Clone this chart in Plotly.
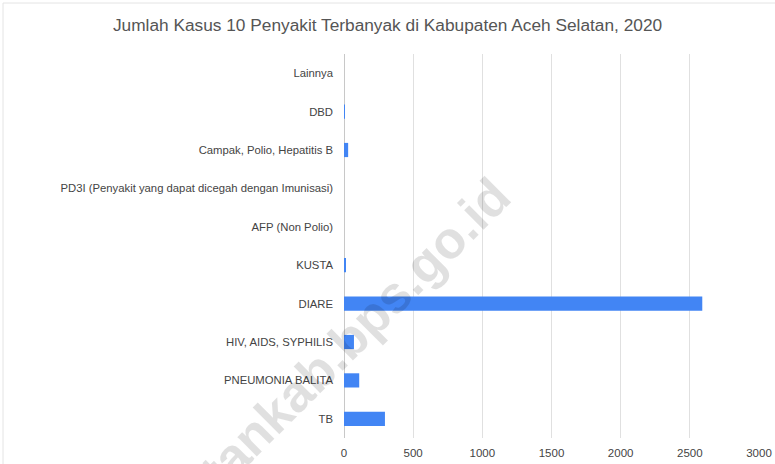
import plotly.graph_objects as go

categories = ["TB", "PNEUMONIA BALITA", "HIV, AIDS, SYPHILIS", "DIARE", "KUSTA",
              "AFP (Non Polio)", "PD3I (Penyakit yang dapat dicegah dengan Imunisasi)",
              "Campak, Polio, Hepatitis B", "DBD", "Lainnya"]
values = [296, 110, 72, 2590, 10, 0, 0, 30, 3, 0]
tick_vals = [0, 500, 1000, 1500, 2000, 2500, 3000]

W, H = 775, 464
L, R, T, B = 344, 16, 54, 26
pw, ph = W - L - R, H - T - B

def px(x):
    return (x - L) / pw

def py(y):
    return (H - B - y) / ph

fig = go.Figure(go.Bar(
    x=values, y=categories, orientation="h",
    marker=dict(color="#4285f4", line=dict(width=0)),
))

fig.update_layout(
    width=W, height=H,
    margin=dict(l=L, r=R, t=T, b=B),
    paper_bgcolor="white", plot_bgcolor="white",
    bargap=0.63,
    showlegend=False,
    font=dict(family="Liberation Sans, Arial, sans-serif", size=12, color="#444"),
    title=dict(text="Jumlah Kasus 10 Penyakit Terbanyak di Kabupaten Aceh Selatan, 2020",
               x=0.5, xref="container", xanchor="center", y=1 - 25 / H, yanchor="middle",
               font=dict(size=17.3, color="#555")),
    xaxis=dict(range=[0, 3000], tickvals=tick_vals, showgrid=True, gridcolor="#e0e0e0",
               gridwidth=1, zeroline=True, zerolinecolor="#c8c8c8", zerolinewidth=1,
               showline=False, ticks="", ticklen=0, ticklabelstandoff=6, automargin=False,
               tickfont=dict(size=11.5, color="#444")),
    yaxis=dict(showgrid=False, showline=False, ticks="", ticklabelstandoff=10,
               tickfont=dict(size=11.3, color="#444"), automargin=False),
    annotations=[dict(text="<b>acehselatankab.bps.go.id</b>", xref="paper", yref="paper",
                      x=px(277), y=py(411), xanchor="center", yanchor="middle",
                      textangle=-45, showarrow=False,
                      font=dict(size=52, color="rgba(0,0,0,0.12)",
                                family="Liberation Sans, Arial, sans-serif"))],
    shapes=[dict(type="rect", xref="paper", yref="paper",
                 x0=px(3), x1=px(800), y0=py(490), y1=py(3),
                 line=dict(color="#e4e4e4", width=1), layer="below")],
)

fig.write_html("out.html", config={"displayModeBar": False},
               post_script="document.body.style.margin='0';document.body.style.overflow='hidden';")
